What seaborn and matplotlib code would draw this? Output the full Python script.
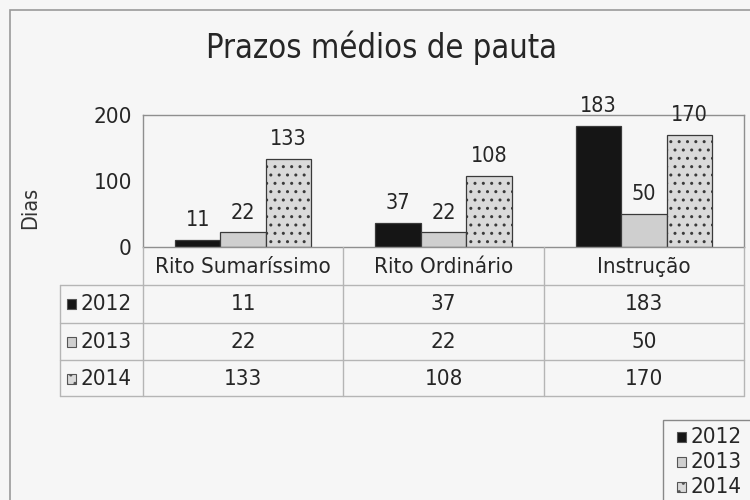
import matplotlib
matplotlib.use("Agg")
import matplotlib.pyplot as plt
import seaborn as sns
import pandas as pd
from matplotlib.patches import Rectangle
from matplotlib.lines import Line2D

categories = ["Rito Sumaríssimo", "Rito Ordinário", "Instrução"]
years = ["2012", "2013", "2014"]
v2012 = [11, 37, 183]
v2013 = [22, 22, 50]
v2014 = [133, 108, 170]
title = "Prazos médios de pauta"
ylabel = "Dias"
yticks = [0, 100, 200]

series = {"2012": v2012, "2013": v2013, "2014": v2014}
rows = []
for y in years:
    for c, v in zip(categories, series[y]):
        rows.append({"Categoria": c, "Ano": y, "Dias": v})
df = pd.DataFrame(rows)

sns.set_style("white")
plt.rcParams["font.family"] = ["DejaVu Sans"]
plt.rcParams["font.stretch"] = "condensed"
plt.rcParams["hatch.color"] = "#9a9a9a"
plt.rcParams["hatch.linewidth"] = 1.0

W, H = 750, 500
fig = plt.figure(figsize=(7.5, 5), dpi=100)
bg = "#f6f6f6"
fig.patch.set_facecolor(bg)
tc = "#262626"
FS = 15.5

def fx(x):
    return x / W

def fy(y):
    return 1 - y / H

L, R, T, B = 143, 744, 115, 247
ax = fig.add_axes([fx(L), fy(B), fx(R) - fx(L), fy(T) - fy(B)])
ax.set_facecolor(bg)

colors = ["#151515", "#cfcfcf", "#dadada"]
sns.barplot(data=df, x="Categoria", y="Dias", hue="Ano", order=categories,
            hue_order=years, palette=colors, width=0.68, edgecolor="#3a3a3a",
            linewidth=0.9, ax=ax, legend=False, saturation=1)

hatches = [None, None, ".."]
for cont, h in zip(ax.containers, hatches):
    for p in cont.patches:
        if h:
            p.set_hatch(h)
    ax.bar_label(cont, padding=7, fontsize=FS, color=tc)

ax.set_xlim(-0.5, 2.5)
ax.set_ylim(0, 200)
ax.set_yticks(yticks)
ax.set_yticklabels([str(t) for t in yticks], fontsize=FS + 0.5, color=tc)
ax.tick_params(axis="y", direction="out", length=5, width=0.8, colors="#888888", labelcolor=tc, pad=3)
ax.set_xticks([])
ax.set_xlabel("")
ax.set_ylabel(ylabel, fontsize=FS, color="#333333")
ax.yaxis.set_label_coords(-0.172, 0.30)
for s in ["top", "right", "left", "bottom"]:
    ax.spines[s].set_color("#8f8f8f")
    ax.spines[s].set_linewidth(1.0)

fig.text(fx(381), fy(48), title, fontsize=23.5, color=tc, ha="center", va="center")

# outer frame
fig.add_artist(Rectangle((fx(10), fy(520)), fx(760) - fx(10), fy(10) - fy(520),
                         transform=fig.transFigure, fill=False, edgecolor="#9a9a9a", linewidth=1.2))

# data table
colw = (R - L) / 3
xs = [L + i * colw for i in range(4)]
row_lines = [285, 323, 360, 396]
lc = "#b5b5b5"
def hline(x0, x1, y):
    fig.add_artist(Line2D([fx(x0), fx(x1)], [fy(y), fy(y)], transform=fig.transFigure, color=lc, lw=1.0))
def vline(x, y0, y1):
    fig.add_artist(Line2D([fx(x), fx(x)], [fy(y0), fy(y1)], transform=fig.transFigure, color=lc, lw=1.0))

for y in row_lines:
    hline(60, R, y)
vline(60, 285, 396)
for x in xs:
    vline(x, B, 396)

for i, c in enumerate(categories):
    fig.text(fx(xs[i] + colw / 2), fy(267), c, fontsize=FS + 0.5, color=tc, ha="center", va="center")

row_centers = [304, 342, 379]
for j, y in enumerate(years):
    yc = row_centers[j]
    fig.add_artist(Rectangle((fx(67), fy(yc + 5)), fx(9), fy(0) - fy(10), transform=fig.transFigure,
                             facecolor=colors[j], edgecolor="#555555", linewidth=0.8,
                             hatch=hatches[j]))
    fig.text(fx(80), fy(yc), y, fontsize=FS + 0.5, color=tc, ha="left", va="center")
    for i, v in enumerate(series[y]):
        fig.text(fx(xs[i] + colw / 2), fy(yc), str(v), fontsize=FS + 0.5, color=tc, ha="center", va="center")

# legend box (bottom right)
fig.add_artist(Rectangle((fx(663), fy(520)), fx(800) - fx(663), fy(420) - fy(520),
                         transform=fig.transFigure, facecolor=bg, edgecolor="#888888", linewidth=1.0))
leg_y = [437, 462, 487]
for j, y in enumerate(years):
    yc = leg_y[j]
    fig.add_artist(Rectangle((fx(677), fy(yc + 5)), fx(9), fy(0) - fy(10), transform=fig.transFigure,
                             facecolor=colors[j], edgecolor="#555555", linewidth=0.8,
                             hatch=hatches[j]))
    fig.text(fx(690), fy(yc), y, fontsize=FS + 0.5, color=tc, ha="left", va="center")

fig.savefig("out.png", dpi=100, facecolor=bg)
